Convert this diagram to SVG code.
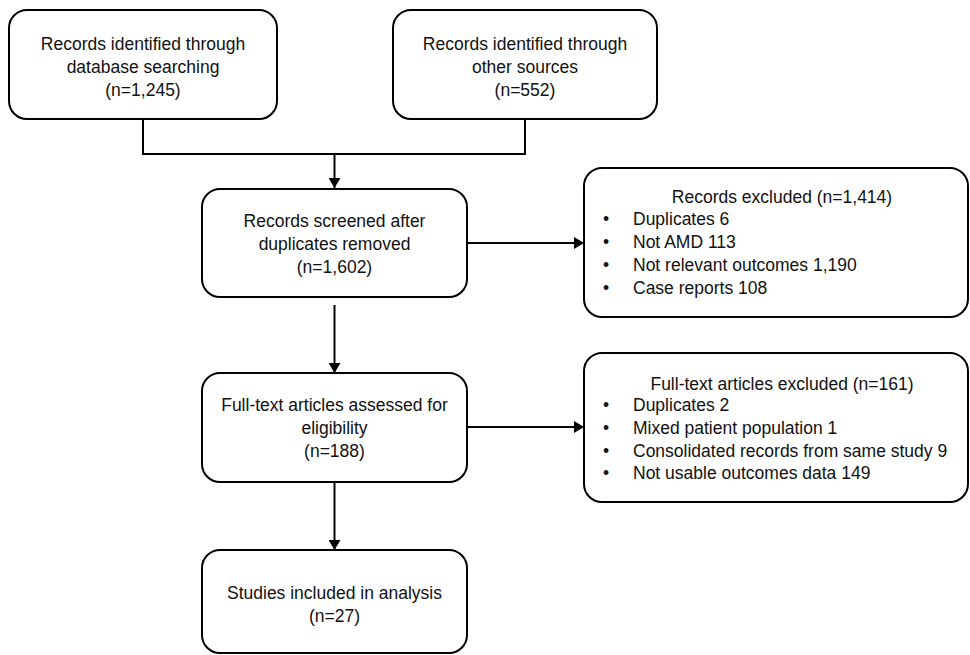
<svg xmlns="http://www.w3.org/2000/svg" width="970" height="655" viewBox="0 0 970 655">
<style>
.box{fill:#fff;stroke:#000;stroke-width:2}
.t{font-family:"Liberation Sans",Arial,sans-serif;font-size:17.5px;fill:#111}
.c{text-anchor:middle}
.ln{fill:none;stroke:#000;stroke-width:2}
</style>
<defs>
<marker id="ah" markerUnits="userSpaceOnUse" markerWidth="12" markerHeight="12" refX="10" refY="6" orient="auto">
<path d="M0,0 L10,6 L0,12 z" fill="#000"/>
</marker>
</defs>
<rect width="970" height="655" fill="#fff"/>
<g id="connectors">
<path class="ln" d="M143,119 V154 H525 V119"/>
<path class="ln" d="M334.5,154 V188" marker-end="url(#ah)"/>
<path class="ln" d="M467,243 H584" marker-end="url(#ah)"/>
<path class="ln" d="M334.5,305 V373" marker-end="url(#ah)"/>
<path class="ln" d="M467,427 H584" marker-end="url(#ah)"/>
<path class="ln" d="M334.5,482 V550" marker-end="url(#ah)"/>
</g>
<g id="n1">
<rect class="box" x="9" y="10" width="268" height="109" rx="18"/>
<text class="t c" x="143" y="50">Records identified through</text>
<text class="t c" x="143" y="73">database searching</text>
<text class="t c" x="143" y="96">(n=1,245)</text>
</g>
<g id="n2">
<rect class="box" x="393" y="10" width="264" height="109" rx="18"/>
<text class="t c" x="525" y="50">Records identified through</text>
<text class="t c" x="525" y="73">other sources</text>
<text class="t c" x="525" y="96">(n=552)</text>
</g>
<g id="n3">
<rect class="box" x="202" y="189" width="265" height="108" rx="18"/>
<text class="t c" x="334.5" y="227">Records screened after</text>
<text class="t c" x="334.5" y="250">duplicates removed</text>
<text class="t c" x="334.5" y="273">(n=1,602)</text>
</g>
<g id="n4">
<rect class="box" x="584" y="168" width="384" height="149" rx="18"/>
<text class="t c" x="782" y="203">Records excluded (n=1,414)</text>
<text class="t" x="603" y="225">•</text><text class="t" x="633" y="225">Duplicates 6</text>
<text class="t" x="603" y="248">•</text><text class="t" x="633" y="248">Not AMD 113</text>
<text class="t" x="603" y="271">•</text><text class="t" x="633" y="271">Not relevant outcomes 1,190</text>
<text class="t" x="603" y="294">•</text><text class="t" x="633" y="294">Case reports 108</text>
</g>
<g id="n5">
<rect class="box" x="202" y="373" width="265" height="109" rx="18"/>
<text class="t c" x="334.5" y="411">Full-text articles assessed for</text>
<text class="t c" x="334.5" y="434">eligibility</text>
<text class="t c" x="334.5" y="457">(n=188)</text>
</g>
<g id="n6">
<rect class="box" x="584" y="353" width="384" height="149" rx="18"/>
<text class="t c" x="782" y="390">Full-text articles excluded (n=161)</text>
<text class="t" x="603" y="411">•</text><text class="t" x="633" y="411">Duplicates 2</text>
<text class="t" x="603" y="434">•</text><text class="t" x="633" y="434">Mixed patient population 1</text>
<text class="t" x="603" y="457">•</text><text class="t" x="633" y="457">Consolidated records from same study 9</text>
<text class="t" x="603" y="479">•</text><text class="t" x="633" y="479">Not usable outcomes data 149</text>
</g>
<g id="n7">
<rect class="box" x="202" y="550" width="265" height="103" rx="18"/>
<text class="t c" x="334.5" y="599">Studies included in analysis</text>
<text class="t c" x="334.5" y="622">(n=27)</text>
</g>
</svg>
